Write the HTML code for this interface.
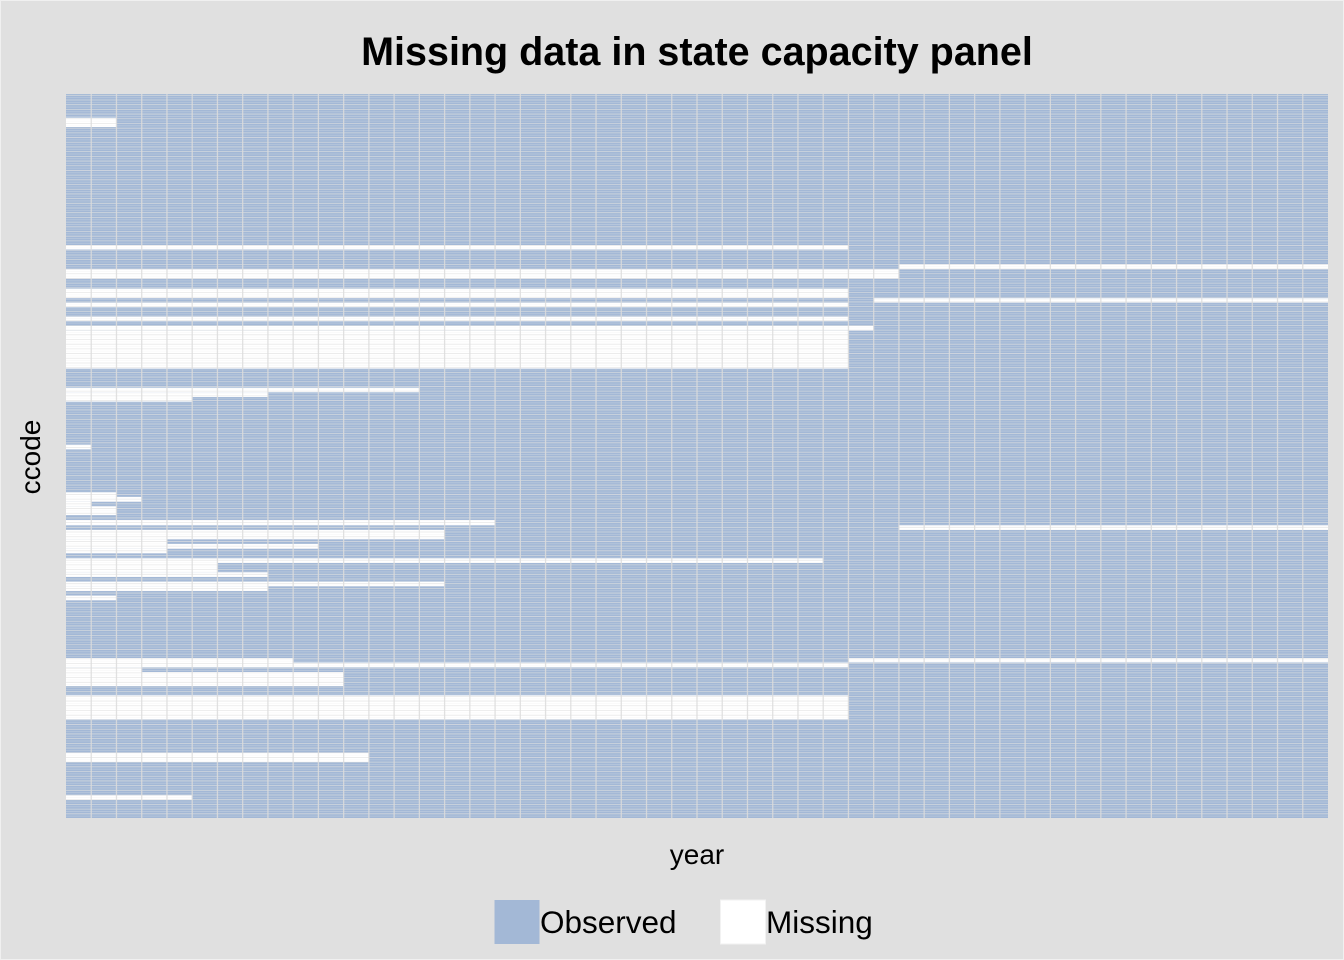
<!DOCTYPE html>
<html><head><meta charset="utf-8"><style>
html,body{margin:0;padding:0;background:#e0e0e0;}
svg{display:block;font-family:"Liberation Sans",Arial,sans-serif;}
</style></head><body>
<svg id="s" width="1344" height="960" viewBox="0 0 1344 960" xmlns="http://www.w3.org/2000/svg">
<rect x="0" y="0" width="1344" height="960" fill="#e0e0e0"/>
<rect x="0.5" y="0.5" width="1343" height="959" fill="none" stroke="#f0f0f0" stroke-width="1"/>
<text x="697" y="65" text-anchor="middle" font-size="39.5" font-weight="bold" fill="#000">Missing data in state capacity panel</text>
<rect x="66" y="94" width="1262" height="724" fill="#a3b8d6"/>
<g id="miss" fill="#ffffff"></g>
<g id="grid"></g>
<text x="697" y="864" text-anchor="middle" font-size="28" fill="#000">year</text>
<text transform="translate(40,457) rotate(-90)" text-anchor="middle" font-size="28" fill="#000">ccode</text>
<rect x="494.5" y="900" width="45" height="44" fill="#a3b8d6"/>
<text x="540" y="933" font-size="31.5" fill="#000">Observed</text>
<rect x="720.5" y="900" width="45" height="44" fill="#ffffff" stroke="#f2f2f2" stroke-width="1"/>
<text x="766" y="933" font-size="31.5" fill="#000">Missing</text>
</svg>
<script>
var NS="http://www.w3.org/2000/svg";
var x0=66,cw=25.24,yT=94,yB=818;
function cx(c){return x0+c*cw;}
var segs=[
[117.7,127,0,2],[245,249.5,0,31],[264.3,269.3,33,50],[269.3,278.7,0,33],
[288.7,298.2,0,31],[298.2,302.7,32,50],[302.7,307.3,0,31],[316.7,321.3,0,31],
[326,330.7,0,32],[330.7,368.7,0,31],[387.7,392.3,0,14],[392.3,397,0,8],
[397,401.7,0,5],[444.7,449.3,0,1],[492.3,497,0,2],[497,501.7,0,3],
[501.7,506.3,0,1],[506.3,515,0,2],[520,525.3,0,17],[525.3,530,33,50],
[530,539.3,0,15],[539.3,544,0,4],[544,548.7,0,10],[548.7,553.3,0,4],
[558.3,563,0,30],[563,572.3,0,6],[572.3,577,0,8],[581.7,586.3,0,15],
[586.3,591,0,8],[595.7,600.3,0,2],[658,662.5,0,9],[658,662.5,31,50],
[662.5,667.3,0,31],[667.3,672,0,3],[672,686,0,11],[695.3,719.3,0,31],
[752.7,762,0,12],[795.3,800,0,5]];
var m=document.getElementById("miss");
segs.forEach(function(s){var r=document.createElementNS(NS,"rect");
r.setAttribute("x",cx(s[2]));r.setAttribute("y",s[0]);
r.setAttribute("width",cx(s[3])-cx(s[2]));r.setAttribute("height",s[1]-s[0]);m.appendChild(r);});
var g=document.getElementById("grid");
var p=4.696,y0=95.3;
for(var k=0;k<=154;k++){var y=y0+k*p;if(y>yB)break;
 var l=document.createElementNS(NS,"line");
 l.setAttribute("x1",x0);l.setAttribute("x2",1328);l.setAttribute("y1",y);l.setAttribute("y2",y);
 l.setAttribute("stroke","rgba(225,225,225,0.75)");l.setAttribute("stroke-width","0.8");g.appendChild(l);
 var l2=document.createElementNS(NS,"line");var ym=y+p/2;
 if(ym<yB){l2.setAttribute("x1",x0);l2.setAttribute("x2",1328);l2.setAttribute("y1",ym);l2.setAttribute("y2",ym);
 l2.setAttribute("stroke","rgba(235,235,235,0.3)");l2.setAttribute("stroke-width","0.8");g.appendChild(l2);}
}
for(var c=1;c<50;c++){var x=cx(c);var v=document.createElementNS(NS,"line");
 v.setAttribute("x1",x);v.setAttribute("x2",x);v.setAttribute("y1",yT);v.setAttribute("y2",yB);
 v.setAttribute("stroke","rgba(220,220,220,0.85)");v.setAttribute("stroke-width","1.3");g.appendChild(v);}
</script>
</body></html>
